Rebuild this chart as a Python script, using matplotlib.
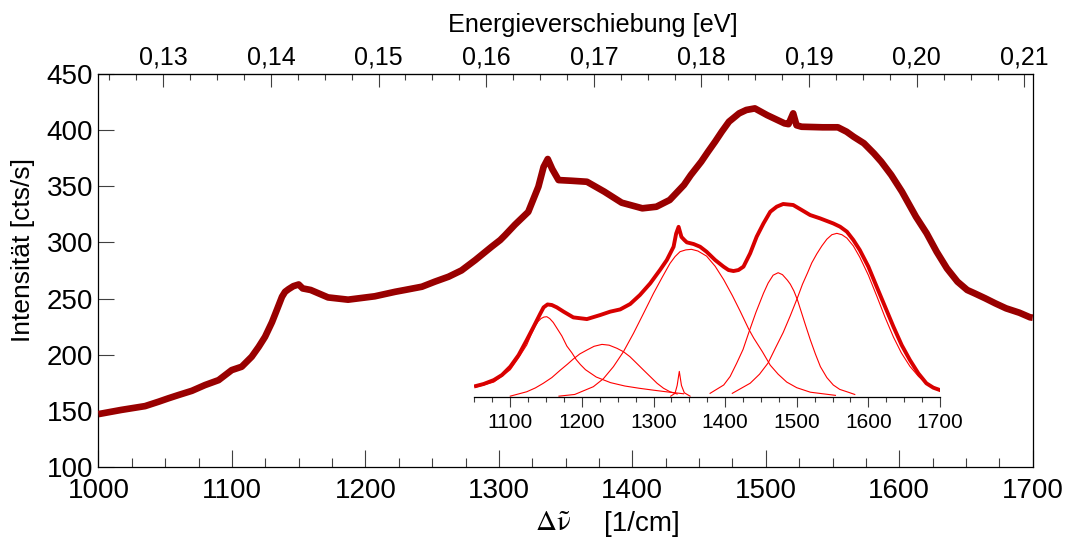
import matplotlib
matplotlib.use("Agg")
import matplotlib.pyplot as plt
from matplotlib.ticker import MultipleLocator, FuncFormatter

plt.rcParams["font.family"] = ["Liberation Sans", "DejaVu Sans"]

# main spectrum (Raman shift [1/cm], intensity [cts/s])
main_shift = [1000, 1017, 1034.9, 1045, 1052.3, 1059.8, 1070, 1079.8, 1090,
              1099.8, 1107.3, 1114.8, 1120, 1124.8, 1130, 1133.6, 1137.5,
              1139.8, 1142.5, 1146, 1150, 1153, 1159, 1172, 1187, 1207,
              1222.3, 1229.5, 1242.3, 1252, 1262.3, 1272, 1282.3, 1294.5,
              1301, 1304.7, 1312, 1322, 1329.6, 1333.5, 1336.6, 1340, 1344.7,
              1354.3, 1366, 1379, 1392, 1407.5, 1418, 1428, 1438.7, 1443.8,
              1451.6, 1456.7, 1462, 1467, 1472.4, 1480, 1485.4, 1491.8, 1501,
              1514, 1517, 1520.5, 1523, 1526.8, 1542.5, 1554, 1560.5, 1565.8,
              1573.5, 1581, 1586.5, 1594, 1602, 1612.5, 1620.5, 1628, 1635.7,
              1643.6, 1650.9, 1656.5, 1664.4, 1672, 1680, 1690, 1698, 1700]
main_int = [147.3, 151, 154.4, 158.3, 161.3, 164.2, 168, 173.1, 177.5,
            186.4, 189.4, 198.3, 207, 216, 229, 239.8, 251.6,
            256, 258.4, 261, 262.5, 259, 257.6, 251, 249, 252,
            256, 257.6, 260.5, 265, 269.4, 275, 284.2, 296,
            302, 306.4, 315.6, 327, 349.4, 367, 374, 365, 355.3,
            354.7, 353.8, 345, 335.2, 330.2, 331.6, 337.6, 351, 359.8,
            371.6, 380.5, 389.4, 398.3, 407.2, 414.6, 417.6, 419, 413,
            405.7, 405, 414.6, 404, 402.7, 402.2, 402.2, 398.3, 393.8,
            388, 379, 371.6, 359.8, 345, 322.7, 308, 291.6, 276.8,
            265, 257.6, 254.6, 250.2, 245.7, 241.3, 237.4, 233.3, 233]

# inset: fitted sum and components (height above baseline)
fit_shift = [1052, 1062.8, 1077, 1088.4, 1100, 1111.6, 1123, 1132.6, 1142,
             1146.5, 1152, 1158, 1165, 1174.4, 1188, 1207, 1225.6, 1239.5,
             1253.5, 1267.4, 1281, 1295.3, 1309, 1318.6, 1328, 1331.6, 1335,
             1339, 1343, 1346.5, 1356, 1365, 1374, 1386, 1397.7, 1404.7,
             1411.6, 1418.6, 1425.6, 1434.9, 1444, 1453.5, 1463, 1472, 1481,
             1495, 1507, 1518.6, 1532.6, 1551, 1560.5, 1570, 1579, 1588, 1600,
             1611.6, 1623.3, 1635, 1646.5, 1658, 1669.8, 1681, 1690.7, 1700]
fit_int = [9.5, 11.3, 14.8, 19.3, 26.7, 37, 50.4, 62.2, 74,
           79.4, 82, 81.5, 79.4, 75.6, 70.5, 69, 72.6, 75.6,
           77.6, 82.4, 90.4, 100.7, 112.6, 121.5, 133.3, 145, 151,
           142, 139.3, 137.2, 135.7, 133.3, 128.9, 121.5, 115.6, 112.6,
           111.7, 112.6, 115.6, 127.4, 142.2, 154, 164.4, 168.9, 171.3,
           170.4, 165.9, 161.5, 158.5, 154, 151.1, 146.7, 139.3, 130.4, 115.6,
           97.8, 80, 62.2, 45.9, 32.6, 20.7, 11.9, 8, 5.9]

c1_shift = [1052, 1077, 1090, 1100, 1111, 1123, 1129, 1135, 1139, 1143, 1147,
            1151, 1155, 1160, 1165, 1172, 1179, 1186, 1192, 1198, 1205, 1220,
            1240, 1260, 1280, 1300, 1320, 1342]
c1_int = [8.5, 13, 19, 24, 34, 46, 55, 63, 67, 69.5, 70.8,
          71.1, 69.5, 66, 61, 54, 45, 39, 33, 28.5, 24, 17.5,
          12.5, 9.5, 7.5, 5.8, 4.2, 2.6]

c2_shift = [1100, 1123, 1135, 1146, 1158, 1170, 1180, 1188, 1197, 1207, 1217,
            1228, 1238, 1249, 1258, 1267, 1276, 1286, 1296, 1305, 1314, 1323,
            1333]
c2_int = [0.5, 4.4, 7.8, 11.9, 17, 23.7, 29, 33.5, 38, 41.5, 44.8,
          46.5, 45.8, 43, 40, 35.6, 30, 23.7, 17.5, 11.9, 7.5, 4.4,
          2.4]

c3_shift = [1324, 1330, 1333, 1336, 1339, 1343, 1351]
c3_int = [0.5, 3, 10, 22.5, 10, 3.5, 0.5]

c4_shift = [1168, 1190, 1216, 1230, 1244, 1258, 1272, 1286, 1300, 1312, 1323,
            1330, 1337, 1345, 1353, 1362, 1374, 1386, 1398, 1410, 1421, 1433,
            1440, 1452, 1463, 1474, 1486, 1500, 1519, 1554]
c4_int = [0.5, 2, 8.9, 16, 26.7, 40, 56.3, 74, 91.9, 106, 118.5,
          124.5, 128.9, 130.5, 131, 129.5, 125, 116, 104, 90, 76, 60,
          52, 40, 28, 20, 13, 8, 4, 1.2]

c5_shift = [1379, 1398, 1407, 1416, 1425, 1433, 1443, 1453.5, 1460, 1467,
            1474, 1480, 1487, 1491, 1496, 1501, 1505, 1512, 1519, 1526, 1533,
            1542, 1551, 1560, 1570, 1581]
c5_int = [3, 10.4, 18, 29.6, 42, 57, 75, 91.9, 101, 108,
          110.2, 108.5, 103.5, 100, 94, 86, 78, 64, 50.4, 38, 26.7,
          17, 10.4, 6.5, 4.4, 2]

c6_shift = [1410, 1435, 1448, 1460, 1470, 1481, 1491, 1501, 1508, 1515, 1521,
            1528, 1535, 1542, 1549, 1556, 1563, 1570, 1579, 1588, 1600, 1612,
            1623, 1635, 1646, 1658, 1670, 1681, 1700]
c6_int = [3, 12, 20, 30, 43, 57, 72, 88, 100, 110, 119,
          127, 134, 140, 144, 145.2, 144, 141, 134, 124, 108, 89,
          71, 53, 39, 27, 18, 12, 6]

components = [(c1_shift, c1_int), (c2_shift, c2_int), (c3_shift, c3_int),
              (c4_shift, c4_int), (c5_shift, c5_int), (c6_shift, c6_int)]

EV_PER_CM = 1.23984e-4

fig = plt.figure(figsize=(10.66, 5.39), dpi=100)
ax = fig.add_axes([0.0924, 0.133, 0.8764, 0.7306])

ax.plot(main_shift, main_int, color="#990000", linewidth=4.8,
        solid_joinstyle="round", solid_capstyle="butt", zorder=3)

ax.set_xlim(1000, 1700)
ax.set_ylim(100, 450)
ax.xaxis.set_major_locator(MultipleLocator(100))
ax.xaxis.set_minor_locator(MultipleLocator(25))
ax.yaxis.set_major_locator(MultipleLocator(50))
ax.tick_params(axis="x", which="major", direction="in", length=12.5, width=0.8,
               color="#404040", labelsize=20, pad=8)
ax.tick_params(axis="x", which="minor", direction="in", length=6.5, width=0.8,
               color="#404040")
ax.tick_params(axis="y", which="major", direction="in", length=11.5, width=0.8,
               color="#404040", labelsize=20, pad=4)
for sp in ax.spines.values():
    sp.set_linewidth(0.9)

# top axis: energy shift in eV
top = ax.secondary_xaxis("top", functions=(lambda x: x * EV_PER_CM,
                                           lambda e: e / EV_PER_CM))
top.xaxis.set_major_locator(MultipleLocator(0.01))
top.xaxis.set_minor_locator(MultipleLocator(0.0025))
top.xaxis.set_major_formatter(FuncFormatter(lambda v, p: f"{v:.2f}".replace(".", ",")))
top.tick_params(which="major", direction="in", length=9.2, width=0.8,
                color="#404040", labelsize=18, pad=3)
top.tick_params(which="minor", direction="in", length=4.3, width=0.8,
                color="#404040")

fig.text(0.556, 0.940, "Energieverschiebung [eV]", fontsize=18.2,
         ha="center", va="baseline")
fig.text(0.022, 0.537, "Intensität [cts/s]", fontsize=19, rotation=90,
         ha="center", va="center")
fig.text(0.502, 0.0148, r"$\mathrm{\Delta\tilde{\nu}}$", fontsize=21,
         math_fontfamily="stix", ha="left", va="baseline")
fig.text(0.5666, 0.0148, "[1/cm]", fontsize=20, ha="left", va="baseline")

# inset with peak fit
ins = fig.add_axes([0.4451, 0.264, 0.4367, 0.3757])
ins.patch.set_alpha(0)
for shift, inten in components:
    ins.plot(shift, inten, color="#ff0000", linewidth=0.8, zorder=2)
ins.plot(fit_shift, fit_int, color="#d80000", linewidth=2.8,
         solid_joinstyle="round", zorder=3)
ins.set_xlim(1050, 1700)
ins.set_ylim(0, 180)
for side in ("top", "left", "right"):
    ins.spines[side].set_visible(False)
ins.spines["bottom"].set_linewidth(0.9)
ins.set_yticks([])
ins.xaxis.set_major_locator(MultipleLocator(100))
ins.xaxis.set_minor_locator(MultipleLocator(25))
ins.set_xticks(range(1100, 1701, 100))
ins.tick_params(axis="x", which="major", direction="out", length=7, width=0.8,
                color="#404040", labelsize=15, pad=5)
ins.tick_params(axis="x", which="minor", direction="out", length=3.6, width=0.8,
                color="#404040")

fig.savefig("out.png", dpi=100)
